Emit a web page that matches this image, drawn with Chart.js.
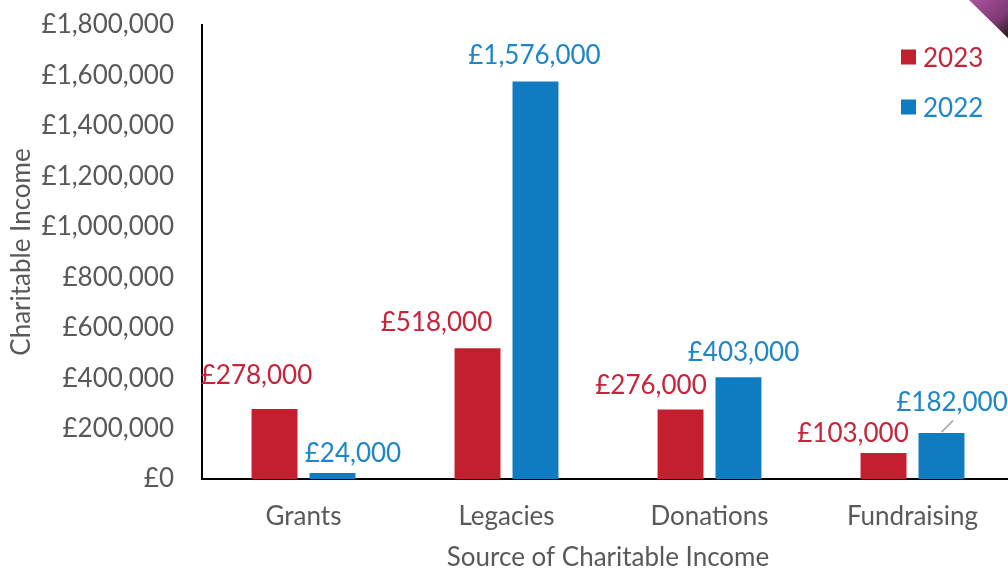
<!DOCTYPE html>
<html><head><meta charset="utf-8">
<script src="https://cdn.jsdelivr.net/npm/chart.js@4.4.0/dist/chart.umd.min.js"></script>
<style>html,body{margin:0;padding:0;background:#fff;overflow:hidden;width:1008px;height:569px}canvas{display:block}</style>
</head><body><canvas id="c" width="1014" height="569"></canvas>
<script>
const categories = ['Grants', 'Legacies', 'Donations', 'Fundraising'];
const seriesNames = ['2023', '2022'];
const values2023 = [278000, 518000, 276000, 103000];
const values2022 = [24000, 1576000, 403000, 182000];
const yTickValues = [0, 200000, 400000, 600000, 800000, 1000000, 1200000, 1400000, 1600000, 1800000];
const xAxisTitle = 'Source of Charitable Income';
const yAxisTitle = 'Charitable Income';

const FONT = 'Lato';
const FS = 26;
const GRAY = '#595959';
const barColors = ['#C41F2F', '#0F7CC1'];
const textColors = ['#C7243A', '#1C86C8'];
const fmt = v => '£' + Number(v).toLocaleString('en-GB');

const labelPlugin = {
  id: 'valueLabels',
  afterDatasetsDraw(chart, args, opts) {
    const ctx = chart.ctx;
    ctx.save();
    ctx.font = `${opts.size}px ${FONT}`;
    ctx.textAlign = 'center';
    ctx.textBaseline = 'alphabetic';
    const asc = ctx.measureText('0').actualBoundingBoxAscent;
    chart.data.datasets.forEach((ds, di) => {
      const meta = chart.getDatasetMeta(di);
      meta.data.forEach((bar, i) => {
        const [dx, dy] = opts.offsets[di][i];
        const cx = bar.x + dx, cy = bar.y + dy;
        ctx.fillStyle = textColors[di];
        ctx.fillText(fmt(ds.data[i]), cx, cy + asc / 2);
        const ll = opts.leaders[di] && opts.leaders[di][i];
        if (ll) {
          ctx.strokeStyle = '#A6A6A6';
          ctx.lineWidth = 1.5;
          ctx.beginPath();
          ctx.moveTo(bar.x + ll[0], bar.y + ll[1]);
          ctx.lineTo(bar.x + ll[2], bar.y + ll[3]);
          ctx.stroke();
        }
      });
    });
    // legend
    ctx.textAlign = 'left';
    chart.data.datasets.forEach((ds, di) => {
      const cy = opts.legendY[di];
      ctx.fillStyle = barColors[di];
      ctx.fillRect(opts.legendX, cy - 7.5, 15, 15);
      ctx.fillStyle = textColors[di];
      ctx.fillText(ds.label, opts.legendX + 22, cy + asc / 2);
    });
    // decorative corner of photo
    const g = ctx.createLinearGradient(975, 0, 1008, 38);
    g.addColorStop(0, '#A8509A');
    g.addColorStop(0.6, '#7E3A73');
    g.addColorStop(1, '#1a1a1a');
    ctx.fillStyle = g;
    ctx.beginPath();
    ctx.moveTo(969, 0);
    ctx.lineTo(1014, 0);
    ctx.lineTo(1014, 44);
    ctx.closePath();
    ctx.fill();
    ctx.restore();
  }
};

new Chart(document.getElementById('c'), {
  type: 'bar',
  data: {
    labels: categories,
    datasets: [
      { label: seriesNames[0], data: values2023, backgroundColor: barColors[0] },
      { label: seriesNames[1], data: values2022, backgroundColor: barColors[1] }
    ]
  },
  options: {
    responsive: false,
    animation: false,
    devicePixelRatio: 1,
    layout: { padding: { top: 25, right: 0, left: 0, bottom: 0 } },
    datasets: { bar: { categoryPercentage: 0.571, barPercentage: 0.793 } },
    plugins: {
      legend: { display: false },
      tooltip: { enabled: false },
      valueLabels: {
        size: FS,
        offsets: [
          [[-18, -35], [-41, -27], [-29.5, -25], [-30.5, -21]],
          [[20.5, -21], [-1, -27], [5, -26.5], [10.5, -32]]
        ],
        leaders: [null, [null, null, null, [0, -1, 11.5, -12.5]]],
        legendX: 901,
        legendY: [57, 107]
      }
    },
    scales: {
      x: {
        grid: { display: false, drawTicks: false },
        border: { display: true, color: '#000', width: 2 },
        ticks: { color: GRAY, font: { family: FONT, size: FS }, padding: 22 },
        title: { display: true, text: xAxisTitle, color: GRAY, font: { family: FONT, size: FS, lineHeight: 1 }, padding: { top: 0, bottom: -2 } },
        afterFit(s) { s.height = 90; s.paddingLeft = 0; s.paddingRight = 0; s.paddingTop = 0; s.paddingBottom = 0; }
      },
      y: {
        min: 0, max: 1800000,
        afterBuildTicks(s) { s.ticks = yTickValues.map(v => ({ value: v })); },
        grid: { display: false, drawTicks: false },
        border: { display: true, color: '#000', width: 2 },
        ticks: { color: GRAY, font: { family: FONT, size: FS }, padding: 28, callback: v => fmt(v) },
        title: { display: true, text: yAxisTitle, color: GRAY, font: { family: FONT, size: FS, lineHeight: 1 }, padding: { top: 9 } },
        afterFit(s) { s.width = 202; s.paddingTop = 0; s.paddingBottom = 0; s.paddingLeft = 0; s.paddingRight = 0; }
      }
    }
  },
  plugins: [labelPlugin]
});
</script>
</body></html>
